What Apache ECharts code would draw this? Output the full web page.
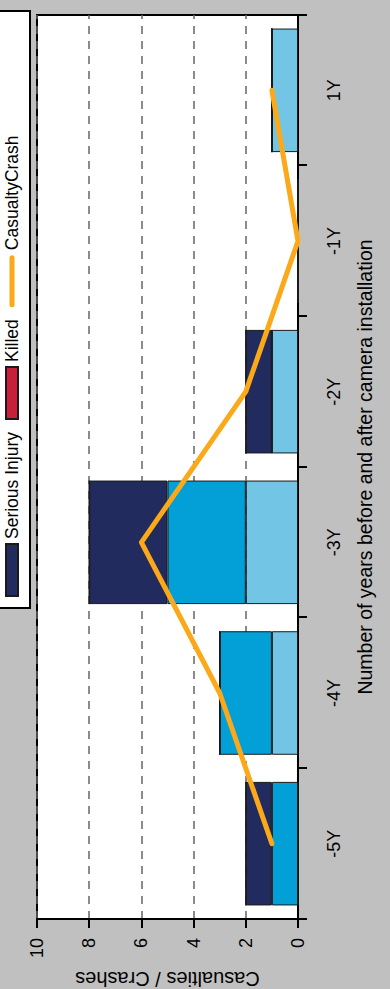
<!DOCTYPE html>
<html><head><meta charset="utf-8">
<script src="https://cdn.jsdelivr.net/npm/echarts@6/dist/echarts.min.js"></script>
<style>
html,body{margin:0;padding:0;width:390px;height:989px;overflow:hidden;background:#c0c0c0;}
#chart{position:absolute;left:0;top:0;width:989px;height:390px;transform-origin:0 0;transform:translate(0,989px) rotate(-90deg);}
</style></head><body><div id="chart"></div>
<script>
const categories = ['-5Y', '-4Y', '-3Y', '-2Y', '-1Y', '1Y'];
const otherA = [0, 1, 2, 1, 0, 1];        // light blue segment
const otherB = [1, 2, 3, 0, 0, 0];        // mid blue segment
const seriousInjury = [1, 0, 3, 1, 0, 0];
const killed = [0, 0, 0, 0, 0, 0];
const casualtyCrash = [1, 3, 6, 2, 0, 1];
const valueTicks = [0, 2, 4, 6, 8, 10];
const legendNames = ['Serious Injury', 'Killed', 'CasualtyCrash'];

const FONT = '"Liberation Sans", Arial, sans-serif';
const chart = echarts.init(document.getElementById('chart'), null, {renderer: 'svg'});
const barBase = {type: 'bar', stack: 'total', barCategoryGap: '18%',
  itemStyle: {borderColor: '#1a1a1a', borderWidth: 1}};
const lineIcon = 'path://M2.5,0H49.5A2.5,2.5,0,0,1,49.5,5H2.5A2.5,2.5,0,0,1,2.5,0Z';
chart.setOption({
  animation: false,
  backgroundColor: '#c0c0c0',
  textStyle: {fontFamily: FONT, color: '#000'},
  grid: {left: 70, right: 15, top: 37, bottom: 92, containLabel: false, outerBoundsMode: 'none',
    show: true, backgroundColor: '#fff', borderColor: '#000', borderWidth: 2},
  graphic: [{type: 'rect', z: 0, shape: {x: 381, y: -10, width: 597, height: 40},
    style: {fill: '#fff', stroke: '#000', lineWidth: 2}}],
  legend: {
    data: [
      {name: legendNames[0], icon: 'rect'},
      {name: legendNames[1], icon: 'rect'},
      {name: legendNames[2], icon: lineIcon}
    ],
    left: 392, top: 3, padding: 0, itemWidth: 52, itemHeight: 12, itemGap: 12,
    textStyle: {fontSize: 17.5, fontFamily: FONT, color: '#000', width: 130}},
  xAxis: {type: 'category', data: categories,
    axisLine: {lineStyle: {color: '#000', width: 2}},
    axisTick: {show: true, length: 9, lineStyle: {color: '#000', width: 2}},
    axisLabel: {fontSize: 18, color: '#000', margin: 27, fontFamily: FONT},
    name: 'Number of years before and after camera installation', nameLocation: 'middle', nameGap: 57,
    nameTextStyle: {fontSize: 19.5, color: '#000', fontFamily: FONT}},
  yAxis: {type: 'value', min: valueTicks[0], max: valueTicks[valueTicks.length - 1], interval: valueTicks[1] - valueTicks[0],
    axisLine: {show: true, lineStyle: {color: '#000', width: 2}},
    axisTick: {show: true, length: 9, lineStyle: {color: '#000', width: 2}},
    axisLabel: {fontSize: 18, color: '#000', margin: 19, fontFamily: FONT},
    splitLine: {show: true, lineStyle: {color: '#666', width: 1.5, type: [8, 7]}},
    name: 'Casualties / Crashes', nameLocation: 'middle', nameGap: 41,
    nameTextStyle: {fontSize: 20, lineHeight: 20, color: '#000', fontFamily: FONT}},
  series: [
    Object.assign({}, barBase, {name: 'Other A', data: otherA, itemStyle: Object.assign({}, barBase.itemStyle, {color: '#72C5E5'})}),
    Object.assign({}, barBase, {name: 'Other B', data: otherB, itemStyle: Object.assign({}, barBase.itemStyle, {color: '#03A0D8'})}),
    Object.assign({}, barBase, {name: 'Serious Injury', data: seriousInjury, itemStyle: Object.assign({}, barBase.itemStyle, {color: '#212B5D'})}),
    Object.assign({}, barBase, {name: 'Killed', data: killed, itemStyle: Object.assign({}, barBase.itemStyle, {color: '#C8203A'})}),
    {type: 'line', name: 'CasualtyCrash', data: casualtyCrash, symbol: 'none', z: 10,
      itemStyle: {color: '#FBA819'},
      lineStyle: {color: '#FBA819', width: 5, cap: 'round', join: 'round'}}
  ]
});
</script></body></html>
